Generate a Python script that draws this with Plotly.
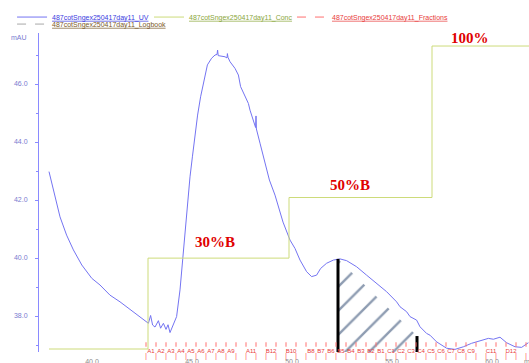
import plotly.graph_objects as go
import numpy as np

# ---------------- data ----------------
uv_ml = [37.85, 38.07, 38.4, 38.73, 39.07, 39.49, 39.99, 40.4, 40.9, 41.4, 41.9, 42.4, 42.82,
         42.93, 43.03, 43.15, 43.32, 43.43, 43.57, 43.7, 43.8, 43.9, 44.07, 44.23, 44.4, 44.53,
         44.65, 44.77, 44.87, 44.9, 45.02, 45.15, 45.28, 45.43, 45.62, 45.77, 45.98, 46.15, 46.25,
         46.28, 46.31, 46.4, 46.65, 46.75, 46.77, 46.8, 46.9, 47.15, 47.32, 47.43, 47.62, 47.82,
         47.9, 48.07, 48.18, 48.2, 48.22, 48.4, 48.57, 48.73, 48.87, 49.15, 49.55, 49.9, 50.15,
         50.4, 50.73, 50.98, 51.23, 51.43, 51.73, 52.07, 52.4, 52.73, 53.23, 53.73, 54.23, 54.73,
         55.23, 55.4, 55.73, 55.9, 56.23, 56.4, 56.73, 56.9, 57.23, 57.73, 58.15, 58.57, 58.98,
         59.4, 59.82, 60.07, 60.4, 60.73, 61.15, 61.48, 61.82]
uv_mau = [42.98, 42.34, 41.42, 40.79, 40.28, 39.76, 39.30, 39.07, 38.72, 38.49, 38.23, 37.98, 37.75,
          38.02, 37.69, 37.62, 37.84, 37.58, 37.75, 37.54, 37.70, 37.43, 37.75, 37.98, 38.90, 39.93,
          40.85, 42.00, 42.63, 42.80, 43.49, 44.30, 44.93, 45.56, 46.25, 46.66, 46.89, 47.00, 47.02,
          47.17, 46.98, 46.97, 46.94, 46.90, 47.05, 46.92, 46.77, 46.54, 46.31, 45.91, 45.62, 45.33,
          45.10, 44.76, 44.50, 44.90, 44.45, 43.96, 43.49, 43.03, 42.69, 42.17, 41.24, 40.62, 40.33,
          39.93, 39.53, 39.36, 39.41, 39.64, 39.82, 39.93, 39.97, 39.91, 39.70, 39.41, 39.13, 38.84,
          38.49, 38.32, 38.15, 37.98, 37.86, 37.63, 37.40, 37.34, 37.11, 36.89, 36.85, 36.94, 37.06,
          37.15, 37.23, 37.20, 37.27, 37.08, 36.94, 36.92, 37.08]

conc_ml = [37.85, 42.8, 49.85, 57.0, 61.85]
conc_pctb = [0, 30, 50, 100, 100]

frac_ml = [42.7, 43.2, 43.7, 44.2, 44.7, 45.2, 45.7, 46.2, 46.7, 47.2, 47.7, 48.2,
           48.7, 49.2, 49.7, 50.2, 50.7, 51.2, 51.7, 52.2, 52.7, 53.2, 53.7, 54.2,
           54.7, 55.2, 55.7, 56.2, 56.7, 57.2, 57.7, 58.2, 58.7, 59.2, 59.7, 60.2,
           60.7, 61.2, 61.7]
frac_labels = ["A1", "A2", "A3", "A4", "A5", "A6", "A7", "A8", "A9", "", "A11", "",
               "B12", "", "B10", "", "B8", "B7", "B6", "B5", "B4", "B3", "B2", "B1",
               "C1", "C2", "C3", "C4", "C5", "C6", "C7", "C8", "C9", "", "C11", "",
               "D12", "", "D10"]
frac_width = 0.5

pool_ml = [52.3, 56.25]
pool_mau = [39.97, 37.31]

step_labels = ["30%B", "50%B", "100%"]

x_ticks = [40, 45, 50, 55, 60]
x_ticklabels = ["40.0", "45.0", "50.0", "55.0", "60.0"]
y_ticks = [38, 40, 42, 44, 46]
y_ticklabels = ["38.0", "40.0", "42.0", "44.0", "46.0"]

x_range = [37.35, 61.85]
y_range = [36.76, 47.76]
conc_range = [-0.99, 104.3]

name = "487cotSngex250417day11"

# ---------------- figure ----------------
fig = go.Figure()

# hatched pooled region
fig.add_trace(go.Scatter(
    x=pool_ml, y=pool_mau, mode="none", fill="tozeroy",
    fillcolor="rgba(0,0,0,0)",
    fillpattern=dict(shape="/", fgcolor="#1d3a64", size=17, solidity=0.14, fillmode="overlay"),
    showlegend=False, hoverinfo="skip"))

# UV
fig.add_trace(go.Scatter(
    x=uv_ml, y=uv_mau, mode="lines",
    line=dict(color="#7474f2", width=1),
    name="<span style='color:#3a3ae0'><u>%s_UV</u></span>" % name,
    legend="legend"))

# Conc
fig.add_trace(go.Scatter(
    x=conc_ml, y=conc_pctb, mode="lines", yaxis="y2",
    line=dict(color="#cddb7a", width=1, shape="hv"),
    name="<span style='color:#8aa63a'><u>%s_Conc</u></span>" % name,
    legend="legend3"))

# Fractions ticks (inside plot)
fx, fy = [], []
for v in frac_ml:
    fx += [v, v, None]
    fy += [0.016, 0.03, None]
fig.add_trace(go.Scatter(
    x=fx, y=fy, mode="lines", yaxis="y3",
    line=dict(color="#ff7070", width=1, dash="dash"),
    name="<span style='color:#e83a3a'><u>%s_Fractions</u></span>" % name,
    legend="legend4", hoverinfo="skip"))

# Fraction separators & labels (below plot, anchored on the bottom edge)
fig.add_trace(go.Scatter(
    x=frac_ml, y=[0] * len(frac_ml), mode="text", text=["|"] * len(frac_ml), yaxis="y3",
    textfont=dict(size=8, color="#ff6a6a", family="Liberation Sans"),
    textposition="bottom center",
    cliponaxis=False, showlegend=False, hoverinfo="skip"))
fig.add_trace(go.Scatter(
    x=[v + frac_width / 2 for v in frac_ml], y=[0] * len(frac_ml),
    mode="text", text=frac_labels, yaxis="y3",
    textfont=dict(size=6, color="#e83a3a", family="Liberation Sans"),
    textposition="middle center",
    cliponaxis=False, showlegend=False, hoverinfo="skip"))

# Logbook (legend only)
fig.add_trace(go.Scatter(
    x=[None], y=[None], mode="lines",
    line=dict(color="#a8a8a8", width=1, dash="dash"),
    name="<span style='color:#7a5a2a'><u>%s_Logbook</u></span>" % name,
    legend="legend2"))

# black boundary lines of the pool
fig.add_trace(go.Scatter(
    x=[pool_ml[0], pool_ml[0], None, pool_ml[1], pool_ml[1]],
    y=[y_range[0], pool_mau[0], None, y_range[0], pool_mau[1]],
    mode="lines", line=dict(color="#000000", width=3),
    showlegend=False, hoverinfo="skip"))

# step annotations
ann_pos = [(0.359, 0.345), (0.635, 0.524), (0.880, 0.984)]
annotations = []
for txt, (ax_, ay_) in zip(step_labels, ann_pos):
    annotations.append(dict(
        x=ax_, y=ay_, xref="paper", yref="paper", text="<b>%s</b>" % txt,
        showarrow=False, xanchor="center", yanchor="middle",
        font=dict(family="Liberation Serif", size=15, color="#e00000")))
annotations.append(dict(x=0, y=1.0, xref="paper", yref="paper", text="mAU",
                        showarrow=False, xanchor="right", yanchor="middle", xshift=-10,
                        yshift=-4,
                        font=dict(size=7, color="#7a7ad0", family="Liberation Sans")))
annotations.append(dict(x=1, y=0, xref="paper", yref="paper", text="mL",
                        showarrow=False, xanchor="left", yanchor="top", xshift=-7, yshift=-4,
                        font=dict(size=7, color="#909090", family="Liberation Sans")))

leg_common = dict(orientation="h", xanchor="left", yanchor="middle",
                  bgcolor="rgba(0,0,0,0)", font=dict(size=7), itemwidth=30)

fig.update_layout(
    width=529, height=363,
    margin=dict(l=39, r=0, t=33, b=11, autoexpand=False),
    paper_bgcolor="white", plot_bgcolor="white",
    font=dict(family="Liberation Sans", size=7),
    annotations=annotations,
    xaxis=dict(range=x_range, tickvals=x_ticks, ticktext=x_ticklabels, showgrid=False,
               zeroline=False, showline=False, ticks="", ticklabelstandoff=4,
               automargin=False, tickfont=dict(size=7, color="#8c8c8c")),
    yaxis=dict(range=y_range, tickvals=y_ticks, ticktext=y_ticklabels, showgrid=False,
               zeroline=False, showline=True, linecolor="#8a8aff", linewidth=1,
               ticks="outside", ticklen=3, tickcolor="#8a8aff", ticklabelstandoff=6,
               automargin=False,
               minor=dict(dtick=1, ticks="outside", ticklen=2, tickcolor="#8a8aff"),
               tickfont=dict(size=7, color="#7a7ad0")),
    yaxis2=dict(range=conc_range, overlaying="y", visible=False),
    yaxis3=dict(range=[-0.0005, 1], overlaying="y", visible=False),
    legend=dict(x=-0.055, y=1.05, **leg_common),
    legend3=dict(x=0.2245, y=1.05, **leg_common),
    legend4=dict(x=0.5163, y=1.05, **leg_common),
    legend2=dict(x=-0.055, y=1.028, **leg_common),
)

fig.write_html("out.html", config={"displayModeBar": False},
               post_script="document.body.style.margin='0';document.body.style.overflow='hidden';")
